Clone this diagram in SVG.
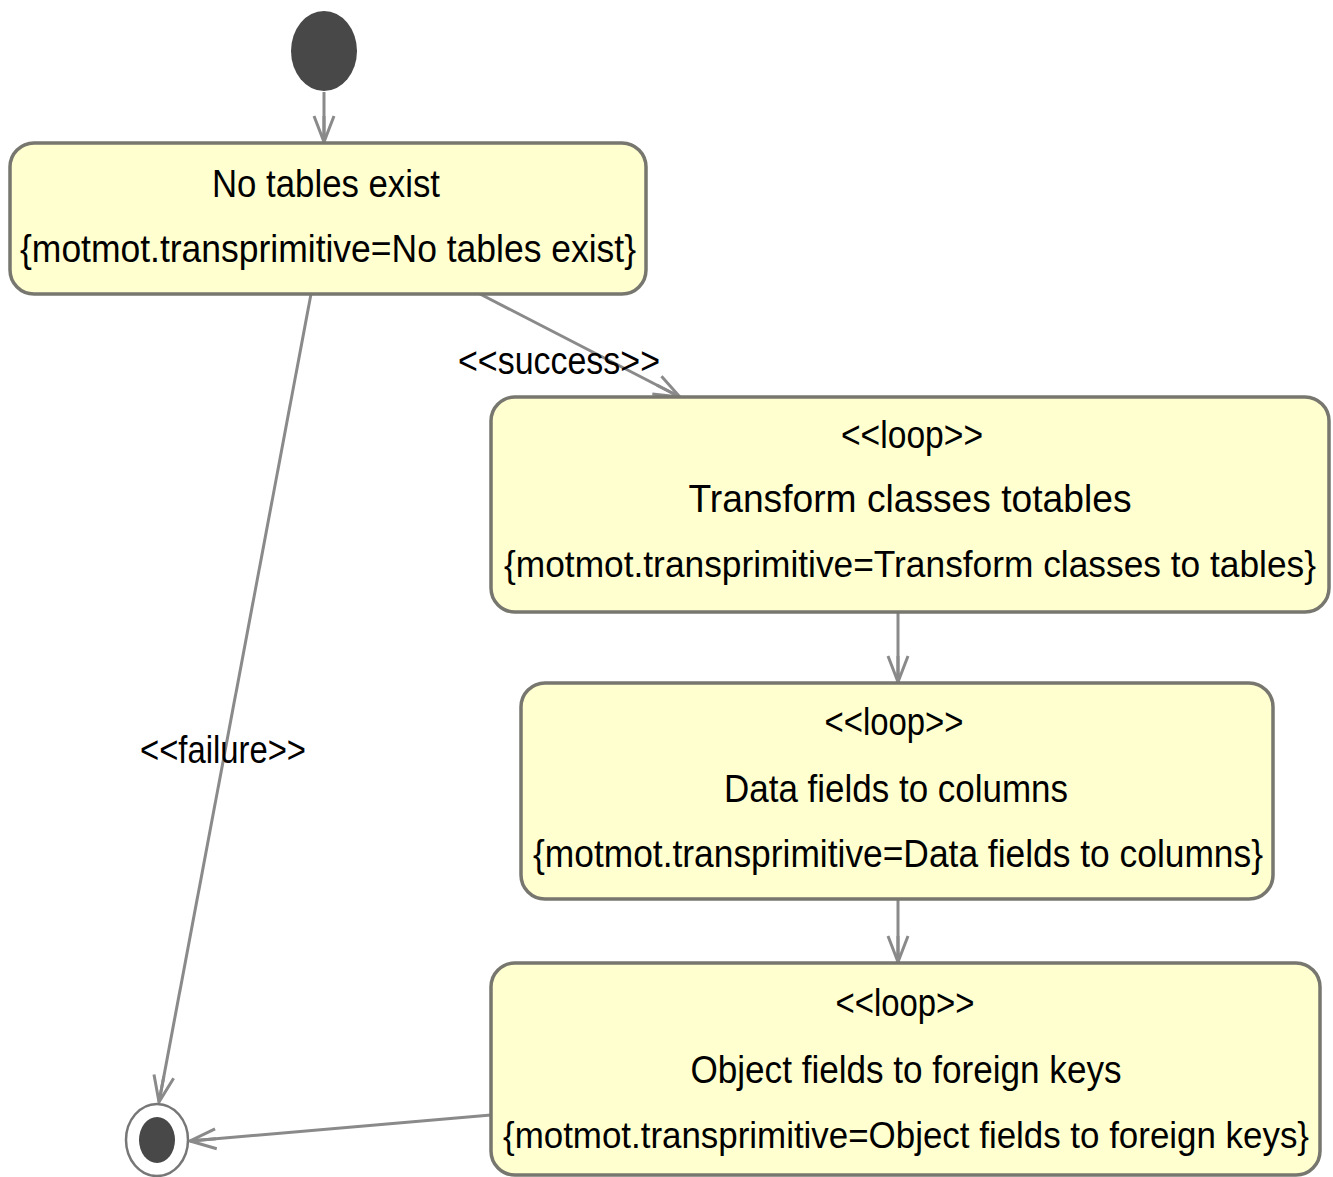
<svg xmlns="http://www.w3.org/2000/svg" width="1333" height="1177" viewBox="0 0 1333 1177">
<style>
.box{fill:#ffffcf;stroke:#777770;stroke-width:3.5}
.t{font-family:"Liberation Sans",Arial,sans-serif;font-size:38px;fill:#000;text-anchor:middle}
.s{font-size:36px}
.c{fill:none;stroke:#8a8a8a;stroke-width:3;marker-end:url(#arr)}
</style>
<defs>
<marker id="arr" viewBox="-28 -14 30 28" refX="0" refY="0" markerWidth="30" markerHeight="28" markerUnits="userSpaceOnUse" orient="auto">
<path d="M-26,-10 L0,0 L-26,10 M-26,0 L0,0" fill="none" stroke="#8a8a8a" stroke-width="3"/>
</marker>
</defs>
<rect width="1333" height="1177" fill="#fff"/>
<g id="connectors">
<line class="c" x1="324" y1="92" x2="324" y2="142"/>
<line class="c" x1="480" y1="294" x2="680" y2="397"/>
<line class="c" x1="311" y1="294" x2="159" y2="1102"/>
<line class="c" x1="898" y1="613" x2="898" y2="682"/>
<line class="c" x1="898" y1="899" x2="898" y2="962"/>
<line class="c" x1="491" y1="1115" x2="190" y2="1141"/>
<text class="t" x="559" y="374" textLength="202" lengthAdjust="spacingAndGlyphs">&lt;&lt;success&gt;&gt;</text>
<text class="t" x="223" y="763" textLength="166" lengthAdjust="spacingAndGlyphs">&lt;&lt;failure&gt;&gt;</text>
</g>
<g id="initial">
<ellipse cx="324" cy="51" rx="33" ry="40" fill="#484848"/>
</g>
<g id="n1">
<rect class="box" x="10" y="143" width="636" height="151" rx="24" ry="24"/>
<text class="t" x="326" y="197" textLength="228" lengthAdjust="spacingAndGlyphs">No tables exist</text>
<text class="t" x="328" y="262" textLength="616" lengthAdjust="spacingAndGlyphs">{motmot.transprimitive=No tables exist}</text>
</g>
<g id="n2">
<rect class="box" x="491" y="397" width="838" height="215" rx="24" ry="24"/>
<text class="t" x="912" y="448" textLength="142" lengthAdjust="spacingAndGlyphs">&lt;&lt;loop&gt;&gt;</text>
<text class="t" x="910" y="512" textLength="443" lengthAdjust="spacingAndGlyphs">Transform classes totables</text>
<text class="t s" x="910" y="577" textLength="812" lengthAdjust="spacingAndGlyphs">{motmot.transprimitive=Transform classes to tables}</text>
</g>
<g id="n3">
<rect class="box" x="521" y="683" width="752" height="216" rx="24" ry="24"/>
<text class="t" x="894" y="735" textLength="139" lengthAdjust="spacingAndGlyphs">&lt;&lt;loop&gt;&gt;</text>
<text class="t" x="896" y="802" textLength="344" lengthAdjust="spacingAndGlyphs">Data fields to columns</text>
<text class="t" x="898" y="867" textLength="730" lengthAdjust="spacingAndGlyphs">{motmot.transprimitive=Data fields to columns}</text>
</g>
<g id="n4">
<rect class="box" x="491" y="963" width="829" height="212" rx="24" ry="24"/>
<text class="t" x="905" y="1016" textLength="139" lengthAdjust="spacingAndGlyphs">&lt;&lt;loop&gt;&gt;</text>
<text class="t" x="906" y="1083" textLength="431" lengthAdjust="spacingAndGlyphs">Object fields to foreign keys</text>
<text class="t s" x="906" y="1148" textLength="806" lengthAdjust="spacingAndGlyphs">{motmot.transprimitive=Object fields to foreign keys}</text>
</g>
<g id="final">
<ellipse cx="157" cy="1140" rx="31" ry="36" fill="#fff" stroke="#777" stroke-width="2.5"/>
<ellipse cx="157" cy="1140" rx="18" ry="23" fill="#484848"/>
</g>
</svg>
